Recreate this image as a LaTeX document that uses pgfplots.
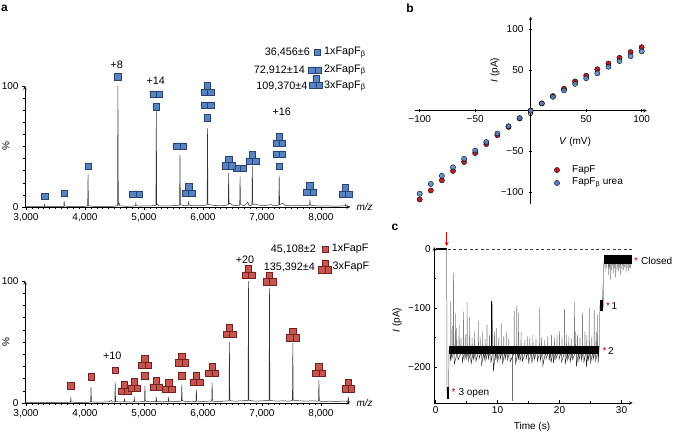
\documentclass[border=0pt]{standalone}
\usepackage{fontspec}
\setmainfont{Liberation Sans}
\usepackage{pgfplots}
\pgfplotsset{compat=1.18}
\usetikzlibrary{arrows.meta}

\definecolor{sqblue}{RGB}{88,130,192}
\definecolor{sqblueD}{RGB}{38,66,112}
\definecolor{sqred}{RGB}{198,86,82}
\definecolor{sqredD}{RGB}{118,32,30}
\definecolor{dotred}{RGB}{188,30,38}
\definecolor{dotblue}{RGB}{82,132,200}

\newcommand{\fs}{\fontsize{10}{12}\selectfont}
\newcommand{\fl}{\fontsize{10.8}{12}\selectfont}

% squares used as charge-state icons
\pgfdeclareplotmark{sq1}{%
  \pgfpathrectangle{\pgfpoint{-3.2pt}{-3.2pt}}{\pgfpoint{6.4pt}{6.4pt}}%
  \pgfusepathqfillstroke}
\pgfdeclareplotmark{sq2}{%
  \pgfpathrectangle{\pgfpoint{-6.4pt}{-3.2pt}}{\pgfpoint{6.4pt}{6.4pt}}%
  \pgfpathrectangle{\pgfpoint{0pt}{-3.2pt}}{\pgfpoint{6.4pt}{6.4pt}}%
  \pgfusepathqfillstroke}
\pgfdeclareplotmark{sq3}{%
  \pgfpathrectangle{\pgfpoint{-6.4pt}{-6.4pt}}{\pgfpoint{6.4pt}{6.4pt}}%
  \pgfpathrectangle{\pgfpoint{0pt}{-6.4pt}}{\pgfpoint{6.4pt}{6.4pt}}%
  \pgfpathrectangle{\pgfpoint{-3.2pt}{0pt}}{\pgfpoint{6.4pt}{6.4pt}}%
  \pgfusepathqfillstroke}

\pgfplotsset{
  base/.style={scale only axis, clip=false,
    axis line style={-, line width=0.6pt},
    tick style={line width=0.5pt, black},
    tick label style={font=\fs}, label style={font=\fs}},
  ms/.style={base, width=325pt, xmin=2983, xmax=8492, ymin=0, ymax=100,
    axis lines=left,
    xtick={3000,4000,5000,6000,7000,8000},
    xticklabels={{3,000},{4,000},{5,000},{6,000},{7,000},{8,000}},
    minor x tick num=9, ytick={0,100}, yticklabels={0,100}, minor y tick num=9,
    tick align=outside, major tick length=3pt, minor tick length=1.5pt,
    xlabel={\textit{m/z}}, xlabel style={at={(axis description cs:1,0)}, anchor=west, xshift=3pt}},
  blueicon/.style={only marks, mark options={fill=sqblue, draw=sqblueD, line width=0.5pt}},
  redicon/.style={only marks, mark options={fill=sqred, draw=sqredD, line width=0.5pt}},
}

\begin{document}
\begin{tikzpicture}
\useasboundingbox (0,0) rectangle (675pt,-433pt);

% ---------- a, top: FapF beta ----------
\begin{axis}[ms, at={(25pt,-207pt)}, anchor=south west, height=121pt]
\addplot[black!80, line width=0.5pt] coordinates {
 (2983,0.3)(3100,0.5)(3200,0.3)(3309,0.5)(3315,2)(3321,0.5)(3400,0.4)(3500,0.6)
 (3600,0.4)(3640,0.6)(3647,5)(3653,0.8)(3750,0.4)(3850,0.5)(3950,0.4)(4045,0.8)
 (4052,27)(4058,1)(4150,0.5)(4250,0.4)(4350,0.6)(4450,0.5)(4551,1)(4558,100)
 (4565,2)(4580,3)(4590,1)(4700,0.6)(4800,0.7)(4855,1)(4862,3)(4868,1)(4950,0.8)
 (5050,1)(5120,0.8)(5202,1.5)(5209,79)(5216,2)(5230,2.5)(5245,1)(5300,1)(5400,0.8)
 (5500,1.2)(5603,1.5)(5610,43)(5617,2)(5640,1.5)(5700,1)(5750,1.5)(5757,4)
 (5764,1.5)(5850,1)(5950,1.2)(6050,1.5)(6070,2)(6077,65)(6084,2.5)(6100,2)
 (6200,1.2)(6300,1)(6400,1.5)(6428,2)(6435,28)(6442,2.5)(6460,3)(6500,1.5)
 (6560,1.2)(6622,1.5)(6629,25)(6636,2)(6700,1.2)(6760,4)(6780,1.2)(6830,1.5)
 (6837,34)(6844,2)(6870,2.5)(6950,1.5)(7050,1.2)(7150,2)(7200,1)(7285,1.5)
 (7292,26)(7299,2)(7350,3)(7400,1.2)(7500,1)(7600,1.5)(7700,1)(7806,1.5)
 (7813,6)(7820,1.5)(7900,1)(8000,0.8)(8100,1)(8200,0.7)(8300,0.8)(8407,1)
 (8414,2)(8421,0.8)(8492,0.5)};
\addplot[blueicon, mark=sq1] coordinates {
 (3315,9.1)(3647,11.6)(4052,33.9)(4558,107.7)(5209,82.9)(6077,73.8)(7292,33.9)};
\addplot[blueicon, mark=sq2] coordinates {
 (4862,10.7)(5209,93.4)(5610,50.4)(6077,84.3)(6629,32)(7292,43.8)};
\addplot[blueicon, mark=sq3] coordinates {
 (5757,14)(6077,97.5)(6435,36.8)(6837,40.5)(7292,55.4)(7813,14.9)(8414,13.2)};
% key icons
\addplot[blueicon, mark=sq1] coordinates {(7932,127.8)};
\addplot[blueicon, mark=sq2] coordinates {(7898,113.2)};
\addplot[blueicon, mark=sq3] coordinates {(7915,103.3)};
\end{axis}

% ---------- a, bottom: FapF ----------
\begin{axis}[ms, at={(25pt,-403pt)}, anchor=south west, height=122pt]
\addplot[black!80, line width=0.5pt] coordinates {
 (2983,0.3)(3100,0.4)(3200,0.5)(3300,0.3)(3400,0.5)(3500,0.4)(3600,0.6)(3700,0.4)
 (3753,0.8)(3760,4)(3767,0.8)(3850,0.5)(3950,0.6)(4050,0.5)(4095,0.8)(4102,13)
 (4109,1)(4200,0.6)(4300,0.8)(4400,1)(4450,2)(4460,0.8)(4505,1)(4512,17)(4519,1.2)
 (4600,0.8)(4663,1)(4670,3)(4677,1)(4760,0.8)(4829,1)(4836,4)(4843,1)(4930,1)
 (5008,1.2)(5015,14)(5022,1.5)(5100,1)(5201,1.2)(5208,5)(5215,1.2)(5300,1)
 (5410,1.2)(5417,4)(5424,1)(5530,1.2)(5634,1.5)(5641,15)(5648,2)(5700,1.2)
 (5800,1)(5881,1.2)(5888,11)(5895,1.5)(6000,1.2)(6100,1.5)(6148,1.5)(6155,17)
 (6162,1.5)(6250,1.2)(6350,1.5)(6441,1.8)(6448,50)(6455,2.5)(6470,1.8)(6550,1.5)
 (6650,1.8)(6764,2)(6771,100)(6778,2.5)(6800,2)(6900,1.5)(7000,1.8)(7120,2)
 (7127,94)(7134,2.5)(7150,2)(7250,1.5)(7350,1.8)(7450,1.5)(7516,2)(7523,49)
 (7530,2.5)(7550,2)(7650,1.8)(7750,1.5)(7850,1.8)(7958,1.5)(7965,19)(7972,1.5)
 (8050,1.2)(8150,1.5)(8250,1.2)(8350,1.5)(8456,1.5)(8463,5)(8470,1.2)(8492,1)};
\addplot[redicon, mark=sq1] coordinates {
 (3760,14.2)(4102,21.6)(4512,27)(5015,22.4)(5641,22.4)};
\addplot[redicon, mark=sq3] coordinates {
 (4670,12.3)(4836,14.8)(5015,33.6)(5208,15.6)(5417,13.9)(5641,35.7)(5888,19.7)
 (6155,27)(6448,59)(6771,107.4)(7127,101.9)(7523,56)(7965,27)(8463,14.3)};
\addplot[redicon, mark=sq1] coordinates {(8068,126)};
\addplot[redicon, mark=sq3] coordinates {(8068,112)};
\end{axis}

% ---------- b: I-V ----------
\begin{axis}[base, at={(414.7pt,-204pt)}, anchor=south west, width=232pt, height=187.3pt,
  xmin=-104.5, xmax=104.5, ymin=-114.6, ymax=115.5, axis lines=middle,
  xtick={-100,-50,50,100}, xticklabels={−100,−50,50,100},
  ytick={-100,-50,50,100}, yticklabels={−100,−50,50,100},
  yticklabel style={xshift=-2pt},
  minor x tick num=1, minor y tick num=1, major tick length=3.5pt, minor tick length=2pt]
\addplot[only marks, mark=*, mark size=2.6pt, mark options={draw=none, fill=dotred}] coordinates {
 (-100,-109)(-90,-98)(-80,-85.5)(-70,-74)(-60,-63)(-50,-52)(-40,-41)(-30,-30)
 (-20,-20)(-10,-9.5)(0,0)(10,9)(20,18)(30,27)(40,36)(50,43)(60,51)(70,58)
 (80,65)(90,72)(100,78)};
\addplot[only marks, mark=*, mark size=2.6pt, mark options={draw=none, fill=dotblue, fill opacity=0.85}] coordinates {
 (-100,-102)(-90,-90)(-80,-80)(-70,-69.5)(-60,-59)(-50,-49)(-40,-38.5)(-30,-28)
 (-20,-19)(-10,-9)(0,0)(10,9)(20,17)(30,25)(40,33)(50,40)(60,46)(70,54)
 (80,61)(90,67)(100,73)};
\addplot[only marks, mark=*, mark size=2.6pt, mark options={draw=none, fill=dotred}] coordinates {(23.7,-72.9)};
\addplot[only marks, mark=*, mark size=2.6pt, mark options={draw=none, fill=dotblue}] coordinates {(23.7,-88.8)};
\node[font=\fs, yshift=-2pt] at (axis cs:0,0) {0};
\end{axis}

% ---------- c: trace ----------
\begin{axis}[base, at={(434.3pt,-403pt)}, anchor=south west, width=198.4pt, height=155.8pt,
  xmin=-0.2, xmax=31.8, ymin=-261, ymax=3, axis lines=left,
  xtick={0,10,20,30}, xticklabels={0,10,20,30},
  ytick={-200,-100,0}, yticklabels={−200,−100,0},
  minor x tick num=1, minor y tick num=1, tick align=inside,
  major tick length=3pt, minor tick length=2pt]
\addplot[black!75, line width=0.6pt, dash pattern=on 3pt off 2.5pt] coordinates {(2.0,0)(31.8,0)};
\addplot[black, line width=2.6pt] coordinates {(0,0)(1.8,0)};
\addplot[black!55, line width=0.5pt] coordinates {(1.8,0)(1.82,-236)(1.9,-250)(2.0,-240)(2.1,-252)(2.15,-172)};
\addplot[black, line width=2.3pt] coordinates {(2.0,-234)(2.0,-254)};
\addplot[black!55, line width=0.5pt] coordinates {(12.35,-172)(12.35,-258)};
% upward spikes from level 2
\addplot[black!50, line width=0.5pt] coordinates {
 (2.2,-172)(2.41,-172)(2.45,-89)(2.49,-172)(2.66,-172)(2.7,-130)(2.74,-172)
 (2.86,-172)(2.9,-41)(2.94,-172)(3.16,-172)(3.2,-109)(3.24,-172)(3.36,-172)(3.4,-134)(3.44,-172)
 (3.76,-172)(3.8,-128)(3.84,-172)(4.06,-172)(4.1,-150)(4.14,-172)(4.46,-172)(4.5,-106)(4.54,-172)
 (4.76,-172)(4.8,-145)(4.84,-172)(5.06,-172)(5.1,-90)(5.14,-172)(5.46,-172)(5.5,-115)(5.54,-172)
 (5.86,-172)(5.9,-150)(5.94,-172)(6.26,-172)(6.3,-140)(6.34,-172)(6.86,-172)(6.9,-122)(6.94,-172)
 (7.16,-172)(7.2,-148)(7.24,-172)(7.56,-172)(7.6,-141)(7.64,-172)(7.96,-172)(8.0,-152)(8.04,-172)
 (8.26,-172)(8.3,-128)(8.34,-172)(8.66,-172)(8.7,-146)(8.74,-172)(9.16,-172)(9.2,-92)(9.24,-172)
 (9.46,-172)(9.5,-140)(9.54,-172)(9.76,-172)(9.8,-134)(9.84,-172)(10.16,-172)(10.2,-150)(10.24,-172)
 (10.56,-172)(10.6,-126)(10.64,-172)(10.96,-172)(11.0,-148)(11.04,-172)(11.36,-172)(11.4,-140)(11.44,-172)
 (11.76,-172)(11.8,-152)(11.84,-172)(12.66,-172)(12.7,-105)(12.74,-172)(13.06,-172)(13.1,-95)(13.14,-172)
 (13.36,-172)(13.4,-108)(13.44,-172)(13.76,-172)(13.8,-140)(13.84,-172)(14.36,-172)(14.4,-154)(14.44,-172)
 (14.76,-172)(14.8,-148)(14.84,-172)(15.16,-172)(15.2,-150)(15.24,-172)(15.66,-172)(15.7,-145)(15.74,-172)
 (16.16,-172)(16.2,-152)(16.24,-172)(16.76,-172)(16.8,-100)(16.84,-172)(17.06,-172)(17.1,-150)(17.14,-172)
 (17.56,-172)(17.6,-154)(17.64,-172)(18.06,-172)(18.1,-148)(18.14,-172)(18.66,-172)(18.7,-145)(18.74,-172)
 (19.16,-172)(19.2,-150)(19.24,-172)(19.56,-172)(19.6,-146)(19.64,-172)(19.96,-172)(20.0,-139)(20.04,-172)
 (20.36,-172)(20.4,-150)(20.44,-172)(20.76,-172)(20.8,-102)(20.84,-172)(21.06,-172)(21.1,-146)(21.14,-172)
 (21.46,-172)(21.5,-148)(21.54,-172)(21.86,-172)(21.9,-152)(21.94,-172)(22.36,-172)(22.4,-90)(22.44,-172)
 (22.56,-172)(22.6,-140)(22.64,-172)(22.86,-172)(22.9,-145)(22.94,-172)(23.26,-172)(23.3,-150)(23.34,-172)
 (23.66,-172)(23.7,-108)(23.74,-172)(24.06,-172)(24.1,-140)(24.14,-172)(24.36,-172)(24.4,-146)(24.44,-172)
 (24.76,-172)(24.8,-100)(24.84,-172)(25.16,-172)(25.2,-148)(25.24,-172)(25.56,-172)(25.6,-103)(25.64,-172)
 (25.86,-172)(25.9,-140)(25.94,-172)(26.06,-172)(26.1,-112)(26.14,-172)
 (26.4,-172)(26.5,-95)(26.6,-105)(26.7,-90)(26.8,-100)(26.9,-92)(27.0,-60)(27.05,-98)
 (27.1,-30)(27.2,-18)};
\addplot[black, line width=1.2pt] coordinates {(9.05,-172)(9.05,-88)};
% downward spikes from level 2
\addplot[black!85, line width=0.45pt] coordinates {
 (2.35,-172)(2.37,-190)(2.6,-172)(2.62,-186)(3.0,-172)(3.02,-195)(3.6,-172)(3.62,-188)
 (4.3,-172)(4.32,-192)(4.7,-172)(4.72,-186)(5.0,-172)(5.02,-185)(5.3,-172)(5.32,-190)
 (5.7,-172)(5.72,-196)(6.1,-172)(6.12,-187)(6.5,-172)(6.52,-190)(7.0,-172)(7.02,-186)
 (7.4,-172)(7.42,-198)(7.8,-172)(7.82,-189)(8.1,-172)(8.12,-188)(8.5,-172)(8.52,-186)
 (8.9,-172)(8.92,-193)(9.3,-172)(9.32,-208)(9.7,-172)(9.72,-188)(10.0,-172)(10.02,-190)
 (10.4,-172)(10.42,-187)(10.8,-172)(10.82,-195)(11.2,-172)(11.22,-186)(11.6,-172)(11.62,-188)
 (12.0,-172)(12.02,-191)(12.9,-172)(12.92,-196)(13.3,-172)(13.32,-188)(13.6,-172)(13.62,-190)
 (14.0,-172)(14.02,-190)(14.6,-172)(14.62,-186)(15.0,-172)(15.02,-192)(15.5,-172)(15.52,-194)
 (15.9,-172)(15.92,-187)(16.4,-172)(16.42,-190)(16.9,-172)(16.92,-188)(17.3,-172)(17.32,-197)
 (17.8,-172)(17.82,-186)(18.3,-172)(18.32,-189)(18.6,-172)(18.62,-193)(19.0,-172)(19.02,-193)
 (19.4,-172)(19.42,-186)(19.9,-172)(19.92,-187)(20.3,-172)(20.32,-192)(20.9,-172)(20.92,-195)
 (21.3,-172)(21.32,-188)(21.7,-172)(21.72,-191)(22.1,-172)(22.12,-187)(22.7,-172)(22.72,-199)
 (23.1,-172)(23.12,-189)(23.5,-172)(23.52,-188)(23.9,-172)(23.92,-193)(24.3,-172)(24.32,-200)
 (24.6,-172)(24.62,-188)(25.0,-172)(25.02,-192)(25.4,-172)(25.42,-187)(25.8,-172)(25.82,-189)
 (26.2,-172)(26.22,-194)(26.35,-172)};
\addplot[black, line width=8pt] coordinates {(2.2,-172)(26.4,-172)};
\addplot[black, line width=3.3pt] coordinates {(26.78,-87)(26.78,-105)};
% closed level
\addplot[black!55, line width=0.45pt] coordinates {
 (27.3,-18)(27.34,-38)(27.38,-18)(27.56,-18)(27.6,-32)(27.64,-18)(27.84,-18)(27.88,-44)(27.92,-18)
 (28.01,-18)(28.05,-34)(28.09,-18)(28.21,-18)(28.25,-52)(28.29,-18)(28.41,-18)(28.45,-36)(28.49,-18)
 (28.64,-18)(28.68,-41)(28.72,-18)(28.81,-18)(28.85,-33)(28.89,-18)(29.02,-18)(29.06,-48)(29.1,-18)
 (29.26,-18)(29.3,-35)(29.34,-18)(29.45,-18)(29.49,-38)(29.53,-18)(29.66,-18)(29.7,-32)(29.74,-18)
 (29.83,-18)(29.87,-44)(29.91,-18)(30.06,-18)(30.1,-34)(30.14,-18)(30.25,-18)(30.29,-36)(30.33,-18)
 (30.46,-18)(30.5,-31)(30.54,-18)(30.69,-18)(30.73,-40)(30.77,-18)(30.86,-18)(30.9,-33)(30.94,-18)
 (31.06,-18)(31.1,-37)(31.14,-18)(31.26,-18)(31.3,-32)(31.34,-18)(31.44,-18)(31.48,-33)(31.52,-18)};
\addplot[black, line width=8.3pt] coordinates {(27.25,-18)(31.75,-18)};
\draw[red!85!black, line width=0.8pt, -{Stealth[length=4pt, width=4pt]}] (axis cs:1.8,28) -- (axis cs:1.8,5);
\end{axis}

% ---------- text ----------
\begin{scope}[every node/.style={font=\fs, inner sep=0pt}]
\node[font=\fontsize{12}{13}\selectfont\bfseries] at (4.5pt,-8.5pt) {a};
\node[font=\fontsize{12}{13}\selectfont\bfseries] at (410pt,-8.5pt) {b};
\node[font=\fontsize{12}{13}\selectfont\bfseries] at (395pt,-227pt) {c};
\node[rotate=90] at (6pt,-146.5pt) {\%};
\node[rotate=90] at (6pt,-342pt) {\%};
% panel a annotations
\node[font=\fl] at (116.7pt,-65pt) {+8};
\node[font=\fl] at (155.7pt,-80.7pt) {+14};
\node[font=\fl] at (281.7pt,-111.7pt) {+16};
\node[font=\fl] at (112.3pt,-355.7pt) {+10};
\node[font=\fl] at (245pt,-259.3pt) {+20};
\node[font=\fl, anchor=east] at (310pt,-52.3pt) {36,456±6};
\node[font=\fl, anchor=east] at (305pt,-70pt) {72,912±14};
\node[font=\fl, anchor=east] at (307.5pt,-86pt) {109,370±4};
\node[font=\fl, anchor=west] at (324pt,-52.3pt) {1xFapF\textsubscript{β}};
\node[font=\fl, anchor=west] at (324pt,-70pt) {2xFapF\textsubscript{β}};
\node[font=\fl, anchor=west] at (324pt,-86pt) {3xFapF\textsubscript{β}};
\node[font=\fl, anchor=east] at (316pt,-249.3pt) {45,108±2};
\node[font=\fl, anchor=east] at (315pt,-267pt) {135,392±4};
\node[font=\fl, anchor=west] at (331.7pt,-249.3pt) {1xFapF};
\node[font=\fl, anchor=west] at (332.5pt,-267pt) {3xFapF};
% panel b labels
\node[rotate=90] at (495pt,-70pt) {\textit{I} (pA)};
\node at (575pt,-142pt) {\textit{V} (mV)};
\node[anchor=west] at (572pt,-170pt) {FapF};
\node[anchor=west] at (572pt,-183pt) {FapF\textsubscript{β} urea};
% panel c labels
\node[rotate=90] at (397pt,-320pt) {\textit{I} (pA)};
\node at (532pt,-427pt) {Time (s)};
\node[anchor=west] at (634pt,-261pt) {{\color{red!80!black}*}\hspace{3pt}Closed};
\node[anchor=west] at (606pt,-306pt) {{\color{red!80!black}*}\hspace{1.5pt}1};
\node[anchor=west] at (602.5pt,-351pt) {{\color{red!80!black}*}\hspace{1.5pt}2};
\node[anchor=west] at (451.5pt,-392.7pt) {{\color{red!80!black}*}\hspace{3pt}3 open};
\end{scope}
\end{tikzpicture}
\end{document}
